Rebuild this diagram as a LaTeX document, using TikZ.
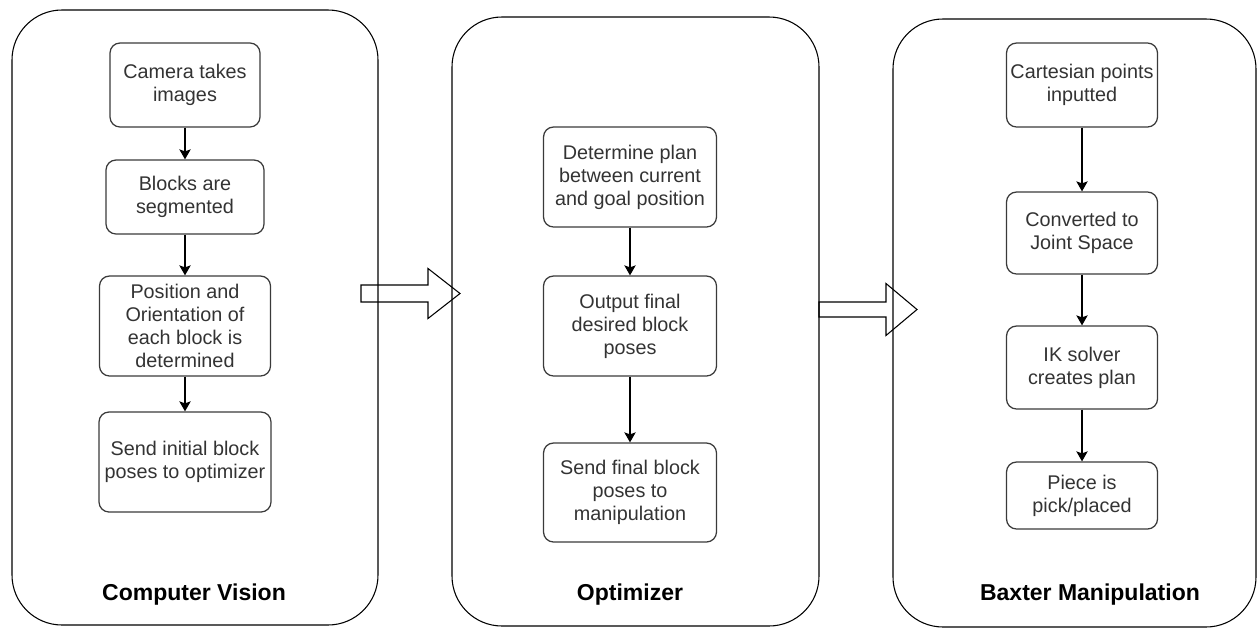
\documentclass[tikz,border=0pt]{standalone}
\usepackage{fontspec}
\setmainfont{Liberation Sans}
\usetikzlibrary{arrows.meta,calc}
\definecolor{boxgray}{HTML}{3A3A3A}
\definecolor{txtgray}{HTML}{333333}
\begin{document}
\begin{tikzpicture}[x=0.75pt,y=-0.75pt,
  container/.style={draw=black,line width=0.8pt,rounded corners=37.5pt,inner sep=0pt},
  stepbox/.style={draw=boxgray,line width=0.95pt,rounded corners=7.5pt,align=center,inner sep=0pt,
    text=txtgray,font=\fontsize{14.85pt}{17.25pt}\selectfont},
  title/.style={anchor=base,font=\bfseries\fontsize{17.25pt}{20pt}\selectfont,text=black},
  conn/.style={draw=black,line width=1pt,-{Stealth[length=7.5pt,width=8.5pt,inset=1.5pt]}},
  blockarrow/.style={draw=black,line width=0.8pt,line join=miter}]
\useasboundingbox (0,0) rectangle (1258,629);
% containers
\node[container,minimum width=274.5pt,minimum height=461.25pt] (cv) at (195,317.5) {};
\node[container,minimum width=275.25pt,minimum height=456.75pt] (opt) at (635.5,321.5) {};
\node[container,minimum width=272.25pt,minimum height=456pt] (bax) at (1074.5,323) {};
% left column
\node[stepbox,minimum width=112.5pt,minimum height=63pt] (cam) at (185,85) {Camera takes\\images};
\node[stepbox,minimum width=118.5pt,minimum height=55.5pt] (blk) at (185,197) {Blocks are\\segmented};
\node[stepbox,minimum width=128.25pt,minimum height=75pt] (pos) at (185,326) {Position and\\Orientation of\\each block is\\determined};
\node[stepbox,minimum width=129pt,minimum height=75pt] (sinit) at (185,462) {Send initial block\\poses to optimizer};
\node[title] (cvl) at (194,600) {Computer Vision};
% middle column
\node[stepbox,minimum width=129.75pt,minimum height=75pt] (det) at (630,177) {Determine plan\\between current\\and goal position};
\node[stepbox,minimum width=129.75pt,minimum height=75pt] (out) at (630,326) {Output final\\desired block\\poses};
\node[stepbox,minimum width=129.75pt,minimum height=74.25pt] (sfin) at (630,492.5) {Send final block\\poses to\\manipulation};
\node[title] (optl) at (630,600) {Optimizer};
% right column
\node[stepbox,minimum width=113.25pt,minimum height=63pt] (cart) at (1082,85) {Cartesian points\\inputted};
\node[stepbox,minimum width=113.25pt,minimum height=61.5pt] (conv) at (1082,233) {Converted to\\Joint Space};
\node[stepbox,minimum width=113.25pt,minimum height=62.25pt] (ik) at (1082,367.5) {IK solver\\creates plan};
\node[stepbox,minimum width=113.25pt,minimum height=50.25pt] (pc) at (1082,495.5) {Piece is\\pick/placed};
\node[title] (baxl) at (1090,600) {Baxter Manipulation};
% connectors
\draw[conn] (cam) -- (blk);
\draw[conn] (blk) -- (pos);
\draw[conn] (pos) -- (sinit);
\draw[conn] (det) -- (out);
\draw[conn] (out) -- (sfin);
\draw[conn] (cart) -- (conv);
\draw[conn] (conv) -- (ik);
\draw[conn] (ik) -- (pc);
% block arrows between stages
\coordinate (a1s) at (361,293.5);
\coordinate (a1e) at (460,293.5);
\draw[blockarrow] ($(a1s)+(0,-8.5)$) -- ++(67,0) -- ++(0,-16.5) -- (a1e) -- ++(-32,25) -- ++(0,-16.5) -- ($(a1s)+(0,8.5)$) -- cycle;
\coordinate (a2s) at (819,309.5);
\coordinate (a2e) at (917,309.5);
\draw[blockarrow] ($(a2s)+(0,-7.5)$) -- ++(67,0) -- ++(0,-18.5) -- (a2e) -- ++(-31,26) -- ++(0,-18.5) -- ($(a2s)+(0,7.5)$) -- cycle;
\end{tikzpicture}
\end{document}
